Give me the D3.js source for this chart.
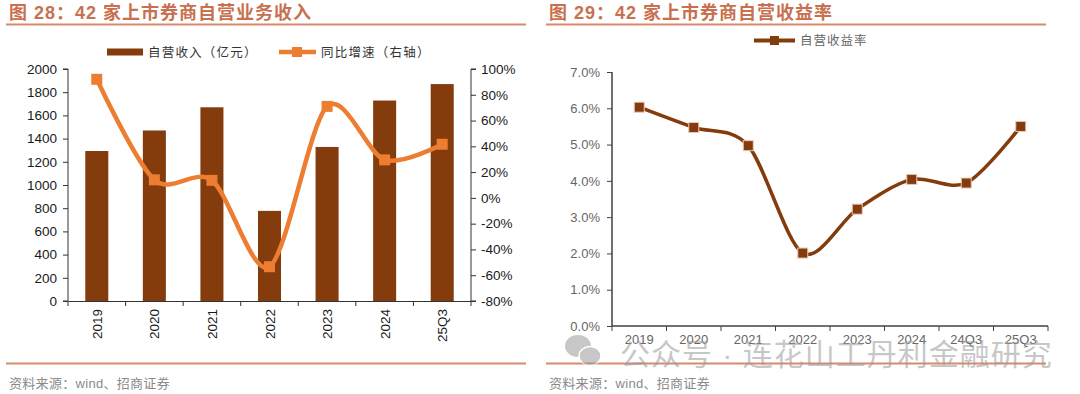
<!DOCTYPE html>
<html><head><meta charset="utf-8">
<script src="https://cdn.jsdelivr.net/npm/d3@7"></script>
<style>
html,body{margin:0;padding:0;background:#fff;}
svg{display:block;}
text{font-family:'Liberation Sans','Noto Sans CJK SC',sans-serif;}
</style></head>
<body><svg id="c" width="1080" height="394"></svg>
<script>
// ---- data ----
const leftCategories = ["2019","2020","2021","2022","2023","2024","25Q3"];
const revenue = [1293, 1470, 1670, 777, 1328, 1728, 1870];      // 亿元
const growth = [92.0, 14.0, 13.6, -53.4, 71.0, 29.5, 41.6];       // %
const leftTicks = [0,200,400,600,800,1000,1200,1400,1600,1800,2000];
const rightTicks = [-80,-60,-40,-20,0,20,40,60,80,100];

const rCategories = ["2019","2020","2021","2022","2023","2024","24Q3","25Q3"];
const yieldRate = [6.03, 5.47, 4.97, 2.01, 3.22, 4.04, 3.94, 5.50]; // %
const yieldTicks = [0,1,2,3,4,5,6,7];

const svg = d3.select("#c");
svg.append("rect").attr("width",1080).attr("height",394).attr("fill","#fff");

const titleColor = "#C8704F", ruleColor = "#D98A6E";
const brown = "#843C0C", orange = "#ED7D31";

// ---- titles, rules, sources ----
function frame(x0, x1, title) {
  svg.append("text").attr("x", x0+3).attr("y", 19).attr("font-size", 18).attr("font-weight","bold")
    .attr("fill", titleColor).attr("letter-spacing", 1).text(title);
  svg.append("line").attr("x1", x0).attr("x2", x1).attr("y1", 24.5).attr("y2", 24.5)
    .attr("stroke", ruleColor).attr("stroke-width", 2);
  svg.append("line").attr("x1", x0).attr("x2", x1).attr("y1", 363.5).attr("y2", 363.5)
    .attr("stroke", ruleColor).attr("stroke-width", 2);
  svg.append("text").attr("x", x0+3).attr("y", 388).attr("font-size", 13).attr("fill","#8a8a8a")
    .attr("letter-spacing", 0.3).text("资料来源：wind、招商证券");
}
frame(6, 526, "图 28：42 家上市券商自营业务收入");
frame(546, 1046, "图 29：42 家上市券商自营收益率");

// ---- left chart ----
const L = {x0: 68, x1: 471, y0: 301, y1: 69};
const xL = d3.scaleBand().domain(leftCategories).range([L.x0, L.x1]).paddingInner(0.6).paddingOuter(0.3);
const yL = d3.scaleLinear().domain([0, 2000]).range([L.y0, L.y1]);
const yR = d3.scaleLinear().domain([-80, 100]).range([L.y0, L.y1]);

svg.append("g").selectAll("rect").data(revenue).join("rect")
  .attr("x", (d,i) => xL(leftCategories[i]))
  .attr("width", xL.bandwidth())
  .attr("y", d => yL(d))
  .attr("height", d => yL(0) - yL(d))
  .attr("fill", brown);

const axL = svg.append("g").attr("transform", `translate(${L.x0},0)`)
  .call(d3.axisLeft(yL).tickValues(leftTicks).tickSize(5).tickPadding(6).tickFormat(d3.format("d")));
const axR = svg.append("g").attr("transform", `translate(${L.x1},0)`)
  .call(d3.axisRight(yR).tickValues(rightTicks).tickSize(5).tickPadding(5).tickFormat(d => d + "%"));
const xBand0 = d3.scaleBand().domain(leftCategories).range([L.x0, L.x1]);
const axB = svg.append("g").attr("transform", `translate(0,${L.y0})`)
  .call(d3.axisBottom(xBand0).tickSize(0).tickFormat(""));
svg.append("g").selectAll("line").data(d3.range(leftCategories.length + 1)).join("line")
  .attr("x1", i => L.x0 + i * xBand0.step()).attr("x2", i => L.x0 + i * xBand0.step())
  .attr("y1", L.y0).attr("y2", L.y0 + 5).attr("stroke", "#333").attr("stroke-width", 1);
svg.append("g").selectAll("text").data(leftCategories).join("text")
  .attr("transform", d => `translate(${xBand0(d) + xBand0.bandwidth()/2 + 5},${L.y0 + 8}) rotate(-90)`)
  .attr("text-anchor", "end").attr("font-size", 13.5).attr("fill", "#1a1a1a").text(d => d);

[axL, axR, axB].forEach(a => {
  a.selectAll("path").attr("stroke", "#333");
  a.selectAll("line").attr("stroke", "#333");
  a.selectAll("text").attr("font-size", 13.5).attr("fill", "#1a1a1a")
    .attr("font-family", "'Liberation Sans',sans-serif");
});
axL.select("path").attr("d", `M-5,${L.y1}H0V${L.y0}H-5`);
axR.select("path").attr("d", `M5,${L.y1}H0V${L.y0}H5`);

const lineL = d3.line()
  .x((d,i) => xL(leftCategories[i]) + xL.bandwidth()/2)
  .y(d => yR(d))
  .curve(d3.curveCardinal.tension(0.1));
svg.append("path").datum(growth).attr("d", lineL).attr("fill","none")
  .attr("stroke", orange).attr("stroke-width", 4.5);
svg.append("g").selectAll("rect").data(growth).join("rect")
  .attr("x", (d,i) => xL(leftCategories[i]) + xL.bandwidth()/2 - 5.5)
  .attr("y", d => yR(d) - 5.5).attr("width", 11).attr("height", 11).attr("fill", orange);

// left legend
const lg = svg.append("g").attr("font-size", 12.5);
lg.append("rect").attr("x", 107).attr("y", 48.5).attr("width", 36).attr("height", 7).attr("fill", brown);
lg.append("text").attr("x", 148).attr("y", 57).attr("fill", "#333")
  .attr("font-family","'Noto Sans CJK SC',sans-serif").attr("letter-spacing", 1.2).text("自营收入（亿元）");
lg.append("line").attr("x1", 279).attr("x2", 316).attr("y1", 52).attr("y2", 52)
  .attr("stroke", orange).attr("stroke-width", 4.5);
lg.append("rect").attr("x", 292).attr("y", 47).attr("width", 10).attr("height", 10).attr("fill", orange);
lg.append("text").attr("x", 321).attr("y", 57).attr("fill", "#333")
  .attr("font-family","'Noto Sans CJK SC',sans-serif").attr("letter-spacing", 1.2).text("同比增速（右轴）");

// ---- right chart ----
const R = {x0: 612, x1: 1048, y0: 326, y1: 72};
const xB = d3.scaleBand().domain(rCategories).range([R.x0, R.x1]);
const yY = d3.scaleLinear().domain([0, 7]).range([R.y0, R.y1]);

const axY = svg.append("g").attr("transform", `translate(${R.x0},0)`)
  .call(d3.axisLeft(yY).tickValues(yieldTicks).tickSize(5).tickPadding(7).tickFormat(d => d.toFixed(1) + "%"));
const axX = svg.append("g").attr("transform", `translate(0,${R.y0})`)
  .call(d3.axisBottom(xB).tickSize(0).tickPadding(9));
svg.append("g").selectAll("line").data(d3.range(rCategories.length + 1)).join("line")
  .attr("x1", i => R.x0 + i * xB.step()).attr("x2", i => R.x0 + i * xB.step())
  .attr("y1", R.y0).attr("y2", R.y0 + 5).attr("stroke", "#404040").attr("stroke-width", 1);
[axY, axX].forEach(a => {
  a.selectAll("path").attr("stroke", "#404040").attr("stroke-width", 1.5);
  a.selectAll("line").attr("stroke", "#404040");
  a.selectAll("text").attr("font-size", 13).attr("fill", "#666")
    .attr("font-family", "'Liberation Sans',sans-serif");
});
axY.select("path").attr("d", `M0,${R.y1}V${R.y0}`);
axX.select("path").attr("d", `M${R.x0},0H${R.x1}`);

const lineR = d3.line()
  .x((d,i) => xB(rCategories[i]) + xB.bandwidth()/2)
  .y(d => yY(d))
  .curve(d3.curveCardinal.tension(0.1));
svg.append("path").datum(yieldRate).attr("d", lineR).attr("fill","none")
  .attr("stroke", brown).attr("stroke-width", 3.5);
svg.append("g").selectAll("rect").data(yieldRate).join("rect")
  .attr("x", (d,i) => xB(rCategories[i]) + xB.bandwidth()/2 - 5)
  .attr("y", d => yY(d) - 5).attr("width", 10).attr("height", 10)
  .attr("fill", brown).attr("stroke", "#E9C9B6").attr("stroke-width", 1);

// right legend
svg.append("line").attr("x1", 754).attr("x2", 795).attr("y1", 40.5).attr("y2", 40.5)
  .attr("stroke", brown).attr("stroke-width", 4);
svg.append("rect").attr("x", 770).attr("y", 36).attr("width", 9).attr("height", 9).attr("fill", brown);
svg.append("text").attr("x", 800).attr("y", 45).attr("font-size", 12.5).attr("fill", "#666")
  .attr("font-family","'Noto Sans CJK SC',sans-serif").attr("letter-spacing", 1).text("自营收益率");

// ---- watermark ----
const wm = svg.append("g").attr("opacity", 0.55);
wm.append("ellipse").attr("cx", 578).attr("cy", 346).attr("rx", 13).attr("ry", 11).attr("fill", "#9a9a9a");
wm.append("ellipse").attr("cx", 590).attr("cy", 356).attr("rx", 11).attr("ry", 9.5).attr("fill", "#9a9a9a")
  .attr("stroke", "#fff").attr("stroke-width", 1.5);
wm.append("text").attr("x", 620).attr("y", 365).attr("font-size", 30).attr("fill", "#9a9a9a")
  .attr("font-family","'Noto Sans CJK SC',sans-serif").attr("letter-spacing", 1).text("公众号 · 连花山工丹利金融研究");
</script></body></html>
